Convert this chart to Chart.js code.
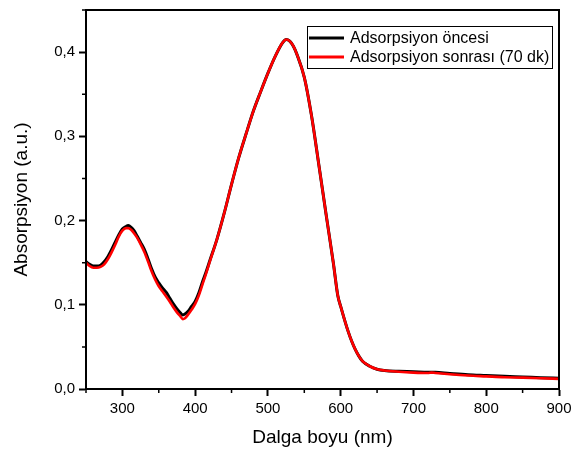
<!DOCTYPE html>
<html>
<head>
<meta charset="utf-8">
<script src="https://cdn.jsdelivr.net/npm/chart.js@4.4.1/dist/chart.umd.min.js"></script>
<style>
  html, body { margin: 0; padding: 0; background: #fff; }
  #wrap { width: 571px; height: 453px; position: relative; }
</style>
</head>
<body>
<div id="wrap"><canvas id="c" width="571" height="453"></canvas></div>
<script>
// ---- data ----
const wavelength = [250,255,260,265,270,275,280,285,290,295,300,305,308,312,316,320,325,330,335,340,345,350,355,360,365,370,375,380,383,386,390,395,400,405,410,415,420,430,440,450,460,470,480,490,500,510,520,525,530,535,540,550,560,570,580,590,596,600,605,610,615,620,625,630,640,650,660,680,700,720,725,730,750,775,800,825,850,875,900];

const beforeAds = [0.151,0.148,0.146,0.146,0.147,0.151,0.157,0.165,0.174,0.183,0.190,0.193,0.194,0.192,0.188,0.182,0.174,0.166,0.155,0.143,0.133,0.126,0.120,0.115,0.108,0.101,0.095,0.090,0.088,0.089,0.092,0.098,0.104,0.114,0.127,0.139,0.152,0.178,0.209,0.243,0.275,0.303,0.330,0.353,0.375,0.395,0.411,0.415,0.413,0.407,0.397,0.370,0.324,0.266,0.207,0.149,0.111,0.098,0.083,0.069,0.057,0.047,0.039,0.033,0.027,0.0235,0.022,0.021,0.0205,0.0198,0.0200,0.0198,0.0185,0.0170,0.0160,0.0150,0.0143,0.0135,0.0128];

const afterAds = [0.150,0.146,0.144,0.144,0.145,0.148,0.154,0.162,0.171,0.181,0.188,0.191,0.191,0.189,0.185,0.180,0.172,0.163,0.152,0.140,0.130,0.122,0.116,0.110,0.104,0.097,0.091,0.086,0.083,0.084,0.088,0.094,0.101,0.111,0.124,0.137,0.151,0.178,0.209,0.243,0.275,0.303,0.330,0.353,0.375,0.395,0.411,0.415,0.413,0.407,0.397,0.370,0.324,0.266,0.207,0.149,0.111,0.098,0.083,0.069,0.057,0.047,0.039,0.033,0.027,0.0235,0.022,0.0205,0.0195,0.0190,0.0195,0.0190,0.0175,0.0160,0.0150,0.0140,0.0135,0.0128,0.0120];

const seriesNames = ["Adsorpsiyon öncesi", "Adsorpsiyon sonrası (70 dk)"];
const xTicks = [300,400,500,600,700,800,900];
const xMinorTicks = [250,350,450,550,650,750,850];
const yTicks = [0.0,0.1,0.2,0.3,0.4];
const yMinorTicks = [0.05,0.15,0.25,0.35,0.45];
const xTitle = "Dalga boyu (nm)";
const yTitle = "Absorpsiyon (a.u.)";

const FONT = "'Liberation Sans', Arial, sans-serif";

function pairs(ys) { return wavelength.map((w, i) => ({ x: w, y: ys[i] })); }

// frame, minor ticks and boxed legend
const framePlugin = {
  id: 'frame',
  afterDraw(chart) {
    const { ctx, chartArea: a, scales } = chart;
    ctx.save();
    ctx.strokeStyle = '#000';
    ctx.lineWidth = 2;
    ctx.strokeRect(a.left, a.top, a.right - a.left, a.bottom - a.top);
    // minor ticks
    ctx.lineWidth = 1.5;
    ctx.beginPath();
    xMinorTicks.forEach(v => {
      const px = scales.x.getPixelForValue(v);
      ctx.moveTo(px, a.bottom); ctx.lineTo(px, a.bottom + 4);
    });
    yMinorTicks.forEach(v => {
      const py = scales.y.getPixelForValue(v);
      ctx.moveTo(a.left, py); ctx.lineTo(a.left - 4, py);
    });
    ctx.stroke();

    // legend box
    const lx = 307, ly = 26, lw = 245, lh = 42;
    ctx.fillStyle = '#fff';
    ctx.fillRect(lx, ly, lw, lh);
    ctx.lineWidth = 1;
    ctx.strokeStyle = '#000';
    ctx.strokeRect(lx + 0.5, ly + 0.5, lw, lh);
    ctx.font = '16px ' + FONT;
    ctx.textBaseline = 'middle';
    chart.data.datasets.forEach((ds, i) => {
      const yy = ly + 12 + i * 19;
      ctx.strokeStyle = ds.borderColor;
      ctx.lineWidth = 3;
      ctx.beginPath();
      ctx.moveTo(lx + 2, yy); ctx.lineTo(lx + 37, yy);
      ctx.stroke();
      ctx.fillStyle = '#000';
      ctx.fillText(ds.label, lx + 43, yy + 1);
    });
    ctx.restore();
  }
};

new Chart(document.getElementById('c'), {
  type: 'scatter',
  data: {
    datasets: [
      { label: seriesNames[0], data: pairs(beforeAds), showLine: true, borderColor: '#000000', borderWidth: 3, pointRadius: 0, cubicInterpolationMode: 'monotone', order: 2 },
      { label: seriesNames[1], data: pairs(afterAds), showLine: true, borderColor: '#ff0000', borderWidth: 2.6, pointRadius: 0, cubicInterpolationMode: 'monotone', order: 1 }
    ]
  },
  options: {
    responsive: false,
    animation: false,
    devicePixelRatio: 1,
    layout: { padding: { top: 10, right: 12, left: 0, bottom: 0 } },
    plugins: { legend: { display: false }, tooltip: { enabled: false } },
    scales: {
      x: {
        type: 'linear', min: 250, max: 900,
        afterBuildTicks: s => { s.ticks = xTicks.map(v => ({ value: v })); },
        afterFit: s => { s.height = 64; s.paddingLeft = 0; s.paddingRight = 0; },
        grid: { drawOnChartArea: false, tickLength: 7, tickWidth: 2, color: '#000' },
        border: { display: true, width: 2, color: '#000' },
        ticks: { color: '#000', font: { family: FONT, size: 15 }, padding: 4, maxRotation: 0 },
        title: { display: true, text: xTitle, color: '#000', font: { family: FONT, size: 19 }, padding: { top: 3 } }
      },
      y: {
        type: 'linear', min: 0, max: 0.45,
        afterBuildTicks: s => { s.ticks = yTicks.map(v => ({ value: v })); },
        afterFit: s => { s.width = 86; s.paddingTop = 0; s.paddingBottom = 0; },
        grid: { drawOnChartArea: false, tickLength: 7, tickWidth: 2, color: '#000' },
        border: { display: true, width: 2, color: '#000' },
        ticks: { color: '#000', font: { family: FONT, size: 15 }, padding: 4,
                 callback: v => v.toFixed(1).replace('.', ',') },
        title: { display: true, text: yTitle, color: '#000', font: { family: FONT, size: 19 }, padding: { top: 10, bottom: 0 } }
      }
    }
  },
  plugins: [framePlugin]
});
</script>
</body>
</html>
